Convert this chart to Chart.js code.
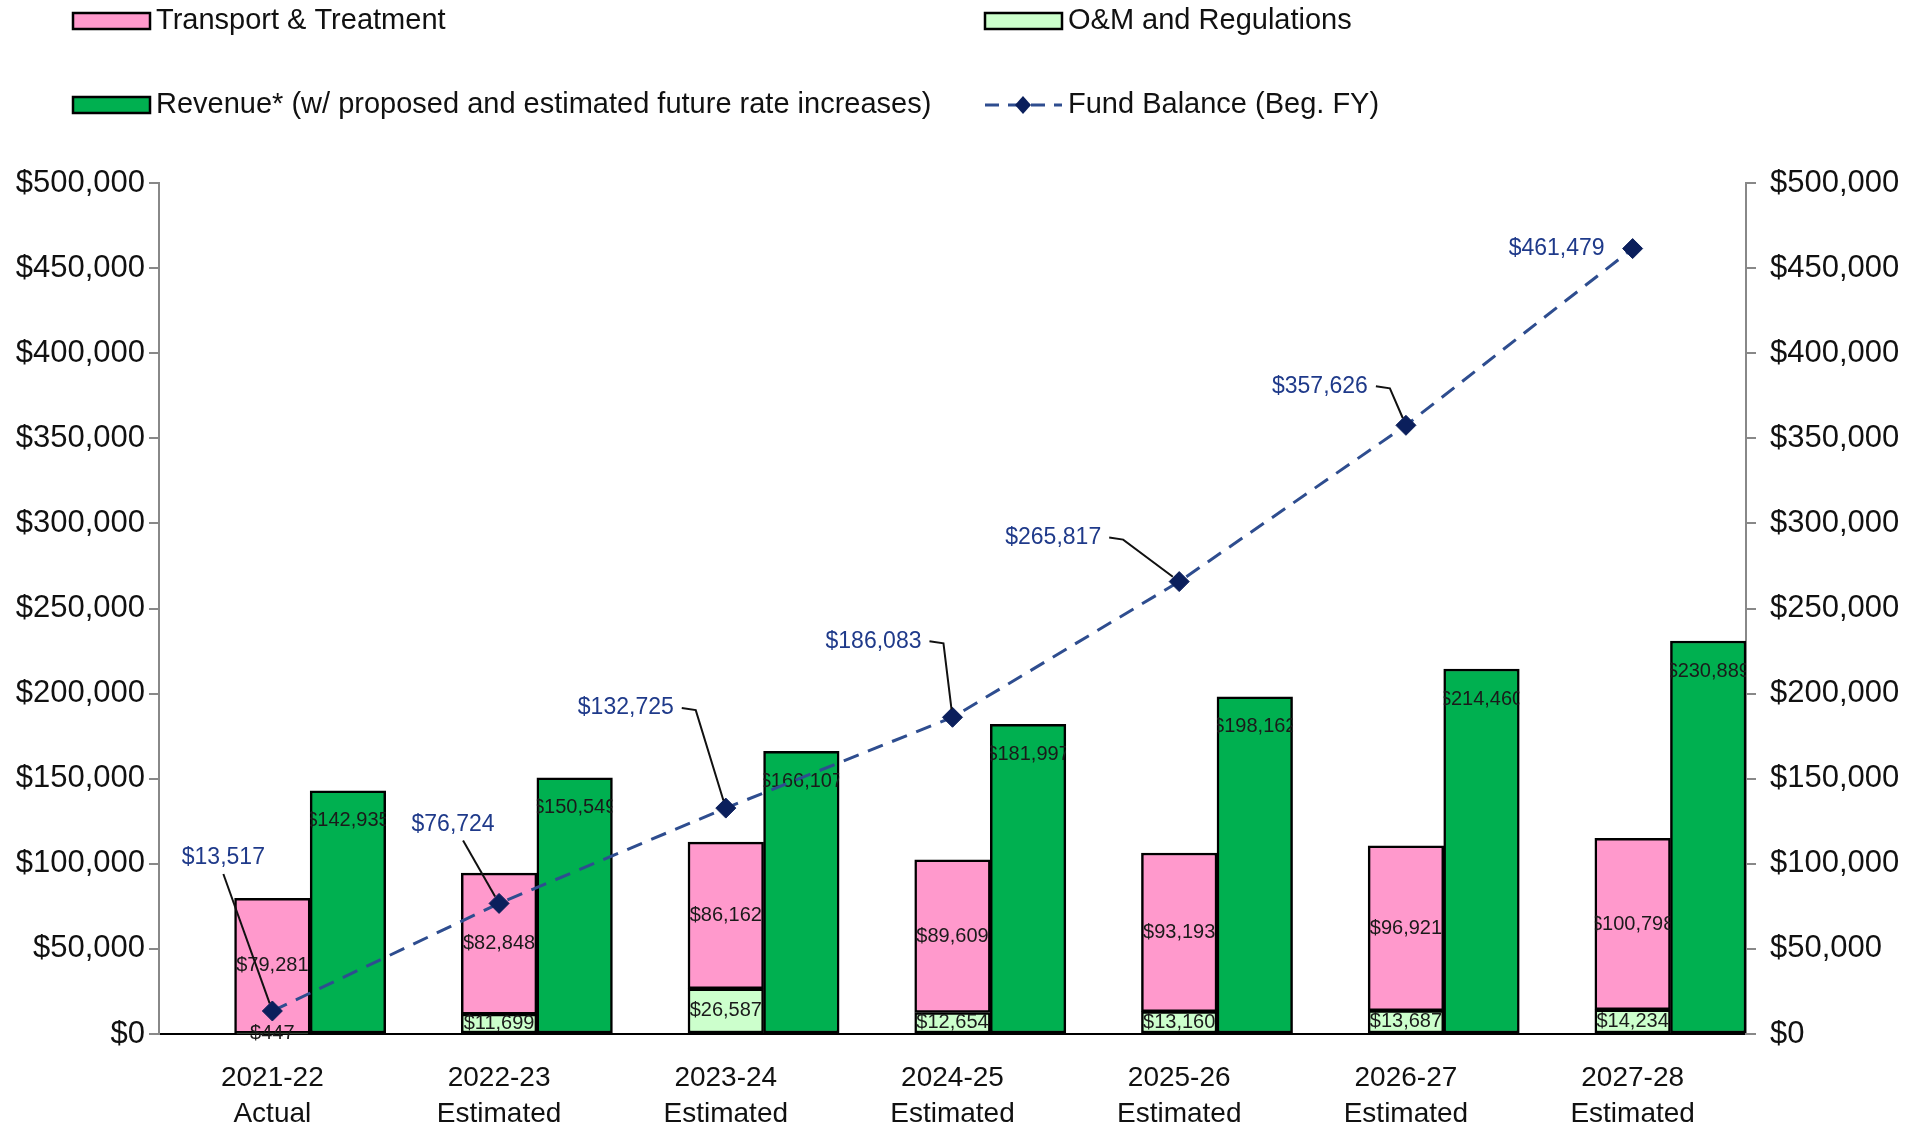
<!DOCTYPE html>
<html>
<head>
<meta charset="utf-8">
<script src="https://cdn.jsdelivr.net/npm/chart.js@4.4.1/dist/chart.umd.min.js"></script>
<style>
  html, body { margin: 0; padding: 0; background: #fff; }
  #wrap { width: 1917px; height: 1125px; }
</style>
</head>
<body>
<div id="wrap"><canvas id="chart"></canvas></div>
<script>
const years = [
  ['2021-22', 'Actual'],
  ['2022-23', 'Estimated'],
  ['2023-24', 'Estimated'],
  ['2024-25', 'Estimated'],
  ['2025-26', 'Estimated'],
  ['2026-27', 'Estimated'],
  ['2027-28', 'Estimated']
];
const omRegs = [447, 11699, 26587, 12654, 13160, 13687, 14234];
const transport = [79281, 82848, 86162, 89609, 93193, 96921, 100798];
const revenue = [142935, 150549, 166107, 181997, 198162, 214460, 230889];
const fundBalance = [13517, 76724, 132725, 186083, 265817, 357626, 461479];

// where each fund balance callout sits, in px from its marker
const calloutOffsets = [[-49, -153], [-46, -79], [-100, -100], [-79, -76], [-126, -44], [-86, -39], [-76, 0]];
const calloutLeader = ['below', 'below', 'side', 'side', 'side', 'side', 'none'];

const FONT = '"Liberation Sans", Arial, sans-serif';
const money = v => '$' + v.toLocaleString('en-US');

// value labels for the bars, drawn right after each bar dataset
const barLabels = {
  id: 'barLabels',
  afterDatasetDraw(chart, args) {
    const ds = chart.data.datasets[args.index];
    if (!ds.valuePos) return;
    const ctx = chart.ctx;
    ctx.save();
    ctx.font = '20px ' + FONT;
    ctx.fillStyle = '#1a1a1a';
    ctx.textAlign = 'center';
    ctx.textBaseline = 'middle';
    args.meta.data.forEach((bar, i) => {
      const v = ds.data[i];
      if (v == null) return;
      ctx.save();
      ctx.beginPath();
      ctx.rect(bar.x - bar.width / 2, 0, bar.width, chart.height);
      ctx.clip();
      const y = ds.valuePos === 'end' ? bar.y + 30 : (bar.y + bar.base) / 2;
      ctx.fillText(money(v), bar.x, y);
      ctx.restore();
    });
    ctx.restore();
  }
};

// fund balance callouts with leader lines
const fundCallouts = {
  id: 'fundCallouts',
  afterDatasetsDraw(chart) {
    const idx = chart.data.datasets.findIndex(d => d.type === 'line');
    const meta = chart.getDatasetMeta(idx);
    const ctx = chart.ctx;
    ctx.save();
    ctx.font = '23px ' + FONT;
    ctx.textAlign = 'center';
    ctx.textBaseline = 'middle';
    meta.data.forEach((pt, i) => {
      const [dx, dy] = calloutOffsets[i];
      const tx = pt.x + dx, ty = pt.y + dy;
      const text = money(fundBalance[i]);
      const w = ctx.measureText(text).width;
      ctx.fillStyle = '#1f3a8a';
      ctx.fillText(text, tx, ty);
      if (calloutLeader[i] === 'none') return;
      ctx.strokeStyle = '#111';
      ctx.lineWidth = 2;
      ctx.beginPath();
      let sx, sy;
      if (calloutLeader[i] === 'below') {
        sx = tx + (i === 1 ? 10 : 0);
        sy = ty + 16;
        ctx.moveTo(sx, sy);
      } else {
        ctx.moveTo(tx + w / 2 + 8, ty);
        sx = tx + w / 2 + 22;
        sy = ty + 2;
        ctx.lineTo(sx, sy);
      }
      const ex = pt.x - sx, ey = pt.y - sy;
      const len = Math.hypot(ex, ey);
      ctx.lineTo(pt.x - ex / len * 8, pt.y - ey / len * 8);
      ctx.stroke();
    });
    ctx.restore();
  }
};

// legend laid out in two rows like the original
const customLegend = {
  id: 'customLegend',
  afterDraw(chart) {
    const ctx = chart.ctx;
    const ds = chart.data.datasets;
    const items = [
      { d: ds[2], x: 73, y: 21 },
      { d: ds[1], x: 985, y: 21 },
      { d: ds[3], x: 73, y: 105 },
      { d: ds[4], x: 985, y: 105 }
    ];
    ctx.save();
    ctx.font = '29px ' + FONT;
    ctx.textBaseline = 'middle';
    ctx.textAlign = 'left';
    items.forEach(it => {
      if (it.d.type === 'line') {
        ctx.strokeStyle = it.d.borderColor;
        ctx.lineWidth = 3;
        ctx.setLineDash([14, 9]);
        ctx.beginPath();
        ctx.moveTo(it.x, it.y);
        ctx.lineTo(it.x + 77, it.y);
        ctx.stroke();
        ctx.setLineDash([]);
        ctx.fillStyle = it.d.pointBackgroundColor;
        const cx = it.x + 38;
        ctx.beginPath();
        ctx.moveTo(cx, it.y - 9);
        ctx.lineTo(cx + 8, it.y);
        ctx.lineTo(cx, it.y + 9);
        ctx.lineTo(cx - 8, it.y);
        ctx.closePath();
        ctx.fill();
      } else {
        ctx.fillStyle = it.d.backgroundColor;
        ctx.fillRect(it.x, it.y - 8, 77, 16);
        ctx.strokeStyle = '#000';
        ctx.lineWidth = 2.5;
        ctx.strokeRect(it.x, it.y - 8, 77, 16);
      }
      ctx.fillStyle = '#111';
      ctx.fillText(it.d.label, it.x + 83, it.y);
    });
    ctx.restore();
  }
};

const ctx = document.getElementById('chart').getContext('2d');
new Chart(ctx, {
  data: {
    labels: years,
    datasets: [
      { type: 'bar', label: 'pad', data: years.map(() => null), stack: 'pad', order: 1 },
      {
        type: 'bar', label: 'O&M and Regulations', data: omRegs, stack: 'cost', order: 1,
        backgroundColor: '#ccffcc', borderColor: '#000', borderWidth: 2.5, borderSkipped: false,
        valuePos: 'center'
      },
      {
        type: 'bar', label: 'Transport & Treatment', data: transport, stack: 'cost', order: 1,
        backgroundColor: '#ff99cc', borderColor: '#000', borderWidth: 2.5, borderSkipped: false,
        valuePos: 'center'
      },
      {
        type: 'bar', label: 'Revenue* (w/ proposed and estimated future rate increases)', data: revenue,
        stack: 'rev', order: 1,
        backgroundColor: '#00b050', borderColor: '#000', borderWidth: 2.5, borderSkipped: false,
        valuePos: 'end'
      },
      {
        type: 'line', label: 'Fund Balance (Beg. FY)', data: fundBalance, stack: 'fund', order: 0,
        borderColor: '#2e4d8f', borderWidth: 3, borderDash: [16, 10], fill: false, tension: 0,
        pointStyle: 'rectRot', pointRadius: 10, pointBackgroundColor: '#0b1f5c',
        pointBorderColor: '#0b1f5c', pointBorderWidth: 1
      }
    ]
  },
  options: {
    responsive: true,
    maintainAspectRatio: false,
    animation: false,
    datasets: { bar: { categoryPercentage: 1, barPercentage: 1 } },
    layout: { padding: { top: 183, left: 0, right: 0, bottom: 0 } },
    scales: {
      x: {
        grid: { display: false },
        border: { color: '#000', width: 2 },
        ticks: { font: { family: FONT, size: 28, lineHeight: 1.3 }, color: '#111', padding: 18, maxRotation: 0 },
        afterFit: s => { s.height = 91; }
      },
      y: {
        position: 'left',
        stacked: true,
        min: 0, max: 500000,
        ticks: { stepSize: 50000, callback: v => money(v), font: { family: FONT, size: 31 }, color: '#111', padding: 4 },
        grid: { drawOnChartArea: false, tickLength: 10, color: '#888', lineWidth: 2 },
        border: { color: '#888', width: 2 },
        afterFit: s => { s.width = 159; }
      },
      y2: {
        position: 'right',
        min: 0, max: 500000,
        ticks: { stepSize: 50000, callback: v => money(v), font: { family: FONT, size: 31 }, color: '#111', padding: 14 },
        grid: { drawOnChartArea: false, tickLength: 10, color: '#888', lineWidth: 2 },
        border: { color: '#888', width: 2 },
        afterFit: s => { s.width = 171; }
      }
    },
    plugins: {
      legend: { display: false },
      tooltip: { enabled: false }
    }
  },
  plugins: [barLabels, fundCallouts, customLegend]
});
</script>
</body>
</html>
